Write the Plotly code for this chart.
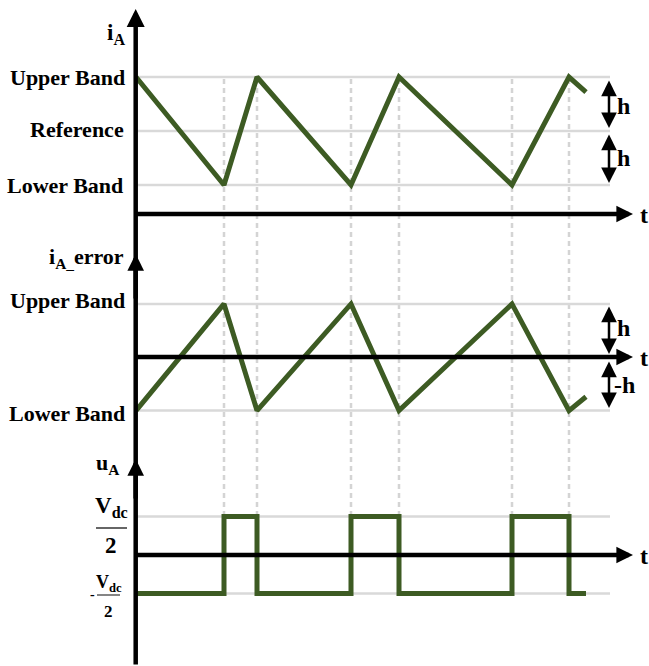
import plotly.graph_objects as go

W, H = 649, 666

# Switching instants (time units) and the three waveforms.
# Currents are in units of the hysteresis band h, voltage in units of Vdc/2.
t = [0, 8.8, 12.1, 21.5, 26.3, 37.6, 43.3, 45.0]
i_a = [1, -1, 1, -1, 1, -1, 1, 0.72]
i_err = [-1, 1, -1, 1, -1, 1, -1, -0.74]
u_a = [-1, 1, -1, 1, -1, 1, -1, -1]

levels_top = [1, 0, -1]      # upper band, reference, lower band
levels_mid = [1, -1]         # +h, -h
levels_bot = [1, -1]         # +Vdc/2, -Vdc/2
sw_times = t[1:7]

GREEN = "#3d5b23"
GRID = "#d9d9d9"
DOTS = "#d4d4d4"
SERIF = "Liberation Serif"
T_END = 47.4


def px(x):
    return x / W


def py(y):
    return 1 - y / H


fig = go.Figure()
fig.add_trace(go.Scatter(x=t, y=i_a, mode="lines", yaxis="y",
                         line=dict(color=GREEN, width=5)))
fig.add_trace(go.Scatter(x=t, y=i_err, mode="lines", yaxis="y2",
                         line=dict(color=GREEN, width=5)))
fig.add_trace(go.Scatter(x=t, y=u_a, mode="lines", yaxis="y3",
                         line=dict(color=GREEN, width=5, shape="hv")))

shapes = []
for ref, levels in (("y", levels_top), ("y2", levels_mid), ("y3", levels_bot)):
    for v in levels:
        shapes.append(dict(type="line", xref="x", yref=ref, x0=0, x1=T_END,
                           y0=v, y1=v, layer="below",
                           line=dict(color=GRID, width=2.5)))
for ts in sw_times:
    shapes.append(dict(type="line", xref="x", yref="paper", x0=ts, x1=ts,
                       y0=py(516), y1=py(77), layer="below",
                       line=dict(color=DOTS, width=2.5, dash="5px,4px")))
# fraction bars of the Vdc/2 labels
shapes.append(dict(type="line", xref="paper", yref="paper", x0=px(96), x1=px(127),
                   y0=py(528), y1=py(528), line=dict(color="#333", width=1.5)))
shapes.append(dict(type="line", xref="paper", yref="paper", x0=px(97), x1=px(120),
                   y0=py(595), y1=py(595), line=dict(color="#333", width=1.2)))


def arrow(xh, yh, xt, yt, width, size, both=False):
    return dict(x=px(xh), y=py(yh), xref="paper", yref="paper",
                ax=xt - xh, ay=yt - yh, axref="pixel", ayref="pixel",
                text="", showarrow=True, arrowhead=2, arrowsize=size,
                arrowwidth=width, arrowcolor="black",
                startarrowhead=2, startarrowsize=size,
                arrowside="end+start" if both else "end",
                font=dict(size=1))


def label(x, y, text, size=22, anchor="right", family=SERIF):
    return dict(x=px(x), y=py(y), xref="paper", yref="paper", text=text,
                showarrow=False, xanchor=anchor, yanchor="middle",
                font=dict(family=family, size=size, color="black"))


ann = []
# axes
ann.append(arrow(135.7, 9, 135.7, 666, 4.5, 0.8))
ann.append(arrow(135.7, 254, 135.7, 300, 4.5, 0.74))
ann.append(arrow(135.7, 459, 135.7, 500, 4.5, 0.74))
for yy in (214, 357, 555):
    ann.append(arrow(633, yy, 134, yy, 4.5, 0.74))
    ann.append(label(644, yy + 1, "<b>t</b>", size=24, anchor="center"))
# band widths
for a, b in ((77, 130), (131, 185), (303, 356), (358, 410)):
    ann.append(arrow(609, b - 2, 609, a + 2, 2.5, 1.25, both=True))
ann.append(label(615, 106, "<b>h</b>", 24, "left"))
ann.append(label(615, 158, "<b>h</b>", 24, "left"))
ann.append(label(615, 328, "<b>h</b>", 24, "left"))
ann.append(label(612, 385, "<b>-h</b>", 24, "left"))
# panel labels
ann.append(label(127, 34, "<b>i<sub>A</sub></b>", 23))
ann.append(label(127, 77, "<b>Upper Band</b>"))
ann.append(label(126, 129, "<b>Reference</b>"))
ann.append(label(125, 185, "<b>Lower Band</b>"))
ann.append(label(126, 258, "<b>i<sub>A_</sub>error</b>"))
ann.append(label(127, 300, "<b>Upper Band</b>"))
ann.append(label(127, 413, "<b>Lower Band</b>"))
ann.append(label(121, 464, "<b>u<sub>A</sub></b>"))
ann.append(label(111, 507, "<b>V<sub>dc</sub></b>", 23, "center"))
ann.append(label(111, 545, "<b>2</b>", 23, "center"))
ann.append(label(109, 583, "<b>V<sub>dc</sub></b>", 18, "center"))
ann.append(label(108, 611, "<b>2</b>", 17, "center"))
ann.append(label(92, 594, "<b>-</b>", 14, "center"))

fig.update_layout(
    width=W, height=H, autosize=False,
    margin=dict(l=0, r=0, t=0, b=0),
    paper_bgcolor="white", plot_bgcolor="white",
    showlegend=False,
    xaxis=dict(range=[-13.6, 51.3], visible=False, fixedrange=True),
    yaxis=dict(range=[-9.907, 2.426], visible=False, domain=[0, 1]),
    yaxis2=dict(range=[-5.79, 6.70], visible=False, overlaying="y"),
    yaxis3=dict(range=[-2.883, 14.416], visible=False, overlaying="y"),
    shapes=shapes,
    annotations=ann,
)

fig.write_html("out.html")
